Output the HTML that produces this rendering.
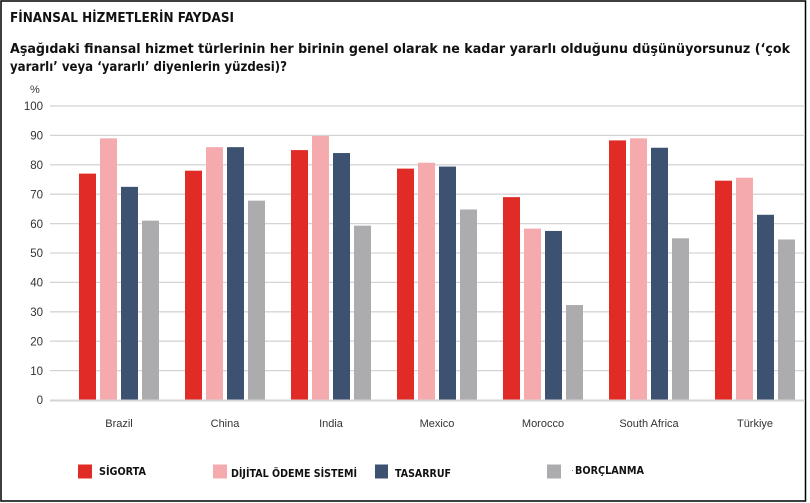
<!DOCTYPE html>
<html><head><meta charset="utf-8"><style>
html,body{margin:0;padding:0;background:#fff;}
svg{display:block;font-family:"Liberation Sans","DejaVu Sans",sans-serif;}
.t{font-family:"DejaVu Sans","Liberation Sans",sans-serif;font-weight:bold;}
</style></head><body>
<svg width="810" height="503" viewBox="0 0 810 503" xmlns="http://www.w3.org/2000/svg">
<rect x="0" y="0" width="810" height="503" fill="#fff"/>
<rect x="1" y="1" width="804.5" height="500" fill="none" stroke="#000" stroke-width="1.5"/>
<text x="10" y="22" font-size="13" class="t" fill="#111" textLength="224" lengthAdjust="spacingAndGlyphs">FİNANSAL HİZMETLERİN FAYDASI</text>
<text x="10" y="53" font-size="13" class="t" fill="#111" textLength="780" lengthAdjust="spacingAndGlyphs">Aşağıdaki finansal hizmet türlerinin her birinin genel olarak ne kadar yararlı olduğunu düşünüyorsunuz (‘çok</text>
<text x="10" y="71" font-size="13" class="t" fill="#111" textLength="277" lengthAdjust="spacingAndGlyphs">yararlı’ veya ‘yararlı’ diyenlerin yüzdesi)?</text>
<text x="30" y="93" font-size="11" fill="#333">%</text>
<g stroke="#d4d4d4" stroke-width="1.3">
<line x1="50" x2="805" y1="106" y2="106"/><line x1="50" x2="805" y1="135.4" y2="135.4"/><line x1="50" x2="805" y1="164.8" y2="164.8"/><line x1="50" x2="805" y1="194.2" y2="194.2"/><line x1="50" x2="805" y1="223.6" y2="223.6"/><line x1="50" x2="805" y1="253" y2="253"/><line x1="50" x2="805" y1="282.4" y2="282.4"/><line x1="50" x2="805" y1="311.8" y2="311.8"/><line x1="50" x2="805" y1="341.2" y2="341.2"/><line x1="50" x2="805" y1="370.6" y2="370.6"/>
</g>
<g font-size="11.5" fill="#333" text-anchor="end">
<text x="43" y="110">100</text><text x="43" y="139.5">90</text><text x="43" y="169">80</text><text x="43" y="198.5">70</text><text x="43" y="228">60</text><text x="43" y="257">50</text><text x="43" y="286.5">40</text><text x="43" y="316">30</text><text x="43" y="345.5">20</text><text x="43" y="375">10</text><text x="43" y="404">0</text>
</g>
<g id="bars"></g>
<line x1="50" x2="805" y1="400.5" y2="400.5" stroke="#d4d4d4" stroke-width="2"/>
<g font-size="11" fill="#333" text-anchor="middle">
<text x="119" y="427">Brazil</text><text x="225" y="427">China</text><text x="331" y="427">India</text><text x="437" y="427">Mexico</text><text x="543" y="427">Morocco</text><text x="649" y="427">South Africa</text><text x="755" y="427">Türkiye</text>
</g>
<rect x="78" y="464.5" width="14" height="14" fill="#e02b27"/>
<text x="99" y="475" font-size="11" class="t" fill="#111" textLength="47" lengthAdjust="spacingAndGlyphs">SİGORTA</text>
<rect x="213" y="464.5" width="14" height="14" fill="#f5abad"/>
<text x="231" y="477" font-size="11" class="t" fill="#111" textLength="126" lengthAdjust="spacingAndGlyphs">DİJİTAL ÖDEME SİSTEMİ</text>
<rect x="375" y="464.5" width="13" height="14" fill="#3d5170"/>
<text x="395" y="477" font-size="11" class="t" fill="#111" textLength="56" lengthAdjust="spacingAndGlyphs">TASARRUF</text>
<rect x="547" y="464.5" width="14" height="14" fill="#acacaf"/>
<text x="575" y="474" font-size="11" class="t" fill="#111" textLength="69" lengthAdjust="spacingAndGlyphs">BORÇLANMA</text>
<text x="571" y="473" font-size="9" fill="#666">·</text>
</svg>
<script>
var d=[[77,89,72.5,61],[78,86,86,67.8],[85,89.8,84,59.3],[78.7,80.7,79.4,64.8],[69,58.3,57.5,32.3],[88.3,89,85.8,55],[74.6,75.6,63,54.6]];
var c=["#e02b27","#f5abad","#3d5170","#acacaf"];
var g=document.getElementById("bars"),s="";
for(var i=0;i<7;i++)for(var j=0;j<4;j++){var x=79+i*106+j*21,h=d[i][j]*2.94;
s+='<rect x="'+x+'" y="'+(400-h)+'" width="17" height="'+h+'" fill="'+c[j]+'"/>';}
g.innerHTML=s;
</script>
</body></html>
